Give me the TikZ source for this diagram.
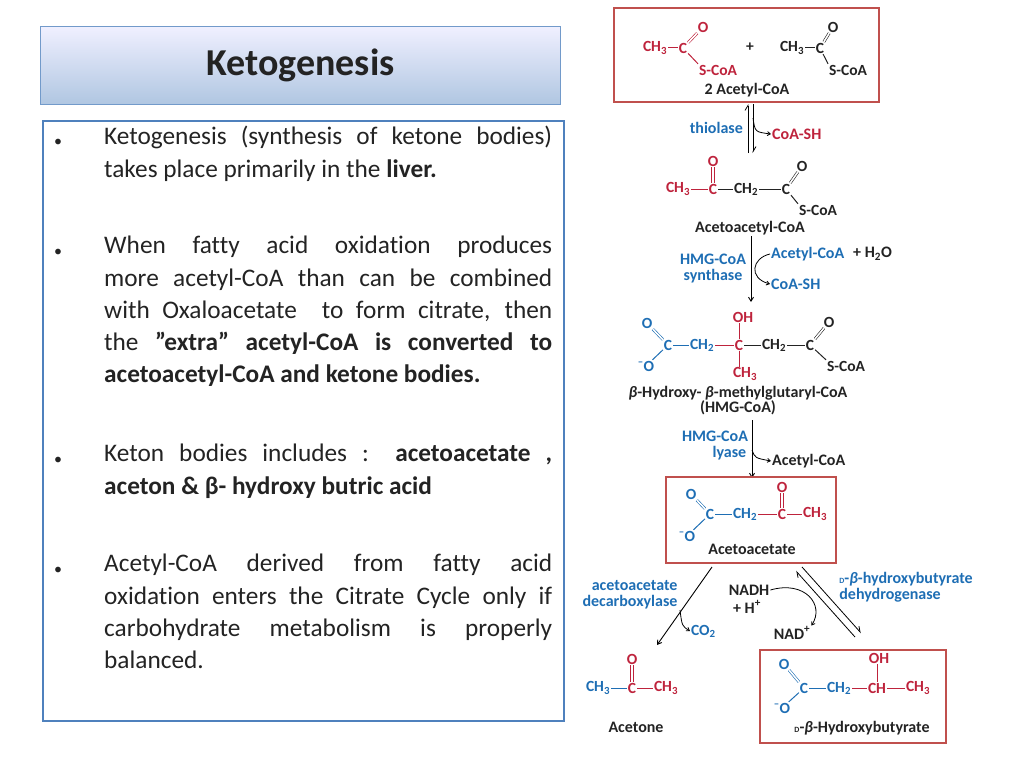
\documentclass[tikz,border=0pt]{standalone}
\usepackage{fontspec}
\setmainfont[Ligatures={NoCommon}]{Carlito}
\usetikzlibrary{arrows.meta}
\definecolor{cr}{RGB}{190,35,60}
\definecolor{cb}{RGB}{30,110,180}
\definecolor{ck}{RGB}{35,35,35}
\definecolor{boxr}{RGB}{192,80,77}
\definecolor{boxb}{RGB}{79,129,189}
\begin{document}
\begin{tikzpicture}[x=1pt,y=-1pt,
  ch/.style={font=\fontsize{15.5}{16}\selectfont\bfseries,inner sep=0.8pt},
  lab/.style={font=\fontsize{16}{17}\selectfont\bfseries,inner sep=1pt,align=center},
  bd/.style={line width=1pt},
  db/.style={line width=0.6pt,double,double distance=1.6pt},
  rbox/.style={draw=boxr,line width=1.8pt},
  arr/.style={line width=0.9pt,-{Straight Barb[length=4pt,width=5pt]}},
  carr/.style={line width=0.8pt,-{Straight Barb[length=3pt,width=4pt]}}]
\useasboundingbox (0,0) rectangle (1024,768);
% left panel
\node[draw=boxb!80,line width=1pt,top color=blue!6,bottom color=boxb!45,minimum width=520,minimum height=78,anchor=north west,font=\fontsize{38}{40}\selectfont\bfseries,text=ck] (title) at (40,26) {Ketogenesis};
\node[draw=boxb,line width=2pt,minimum width=521,minimum height=600,anchor=north west] (cbox) at (42,120) {};
\tikzset{para/.style={anchor=north west,text width=448,align=justify,inner sep=0,font=\fontsize{25.3}{32.3}\selectfont,text=ck},bul/.style={font=\fontsize{16}{32}\selectfont,inner sep=0,text=ck}}
\node[bul] (b1) at (58,143) {•};
\node[para] (p1) at (104,126) {Ketogenesis (synthesis of ketone bodies)\linebreak takes place primarily in the \textbf{liver.}};
\node[bul] (b2) at (58,253) {•};
\node[para] (p2) at (104,236) {When fatty acid oxidation produces\linebreak more acetyl-CoA than can be combined\linebreak with Oxaloacetate\ \ to form citrate, then\linebreak the \textbf{\symbol{34}extra\symbol{34} acetyl-CoA is converted to\linebreak acetoacetyl-CoA and ketone bodies.}};
\node[bul] (b3) at (58,461) {•};
\node[para] (p3) at (104,444) {Keton bodies includes : \textbf{acetoacetate ,\linebreak aceton \& β- hydroxy butric acid}};
\node[bul] (b4) at (58,571) {•};
\node[para] (p4) at (104,554) {Acetyl-CoA derived from fatty acid\linebreak oxidation enters the Citrate Cycle only if\linebreak carbohydrate metabolism is properly\linebreak balanced.};
% box 1: 2 acetyl-CoA
\draw[rbox] (614,8) rectangle (879,102);
\node[ch,text=cr] (a1) at (655,48) {CH\textsubscript{3}};
\node[ch,text=cr] (a2) at (683,48) {C};
\node[ch,text=cr] (a3) at (703,27) {O};
\node[ch,text=cr] (a4) at (718,70) {S-CoA};
\draw[bd,cr] (a1) -- (a2); \draw[db,cr] (a2) -- (a3); \draw[bd,cr] (a2) -- (a4.north west);
\node[ch,text=ck] (plus1) at (750,47) {+};
\node[ch,text=ck] (c1) at (792,48) {CH\textsubscript{3}};
\node[ch,text=ck] (c2) at (820,48) {C};
\node[ch,text=ck] (c3) at (833,27) {O};
\node[ch,text=ck] (c4) at (848,70) {S-CoA};
\draw[bd,ck] (c1) -- (c2); \draw[db,ck] (c2) -- (c3); \draw[bd,ck] (c2) -- (c4.north west);
\node[lab,text=ck] (acoa) at (747,90) {2 Acetyl-CoA};
% thiolase
\coordinate (t1) at (748,104); \coordinate (t2) at (748,153);
\coordinate (t3) at (753,104); \coordinate (t4) at (753,153);
\draw[line width=0.8pt,-{Straight Barb[left,length=5pt,width=6pt]}] (t2) -- (t1);
\draw[line width=0.8pt,-{Straight Barb[left,length=5pt,width=6pt]}] (t3) -- (t4);
\node[lab,text=cb,anchor=east] (thio) at (744,128) {thiolase};
\node[lab,text=cr,anchor=west] (coash1) at (771,134) {CoA-SH};
\coordinate (k1) at (753,118);
\draw[carr] (k1) .. controls (755,132) .. (coash1.west);
% acetoacetyl-CoA
\node[ch,text=cr] (d1) at (678,189) {CH\textsubscript{3}};
\node[ch,text=cr] (d2) at (713,189) {C};
\node[ch,text=cr] (d3) at (713,161) {O};
\node[ch,text=ck] (d4) at (746,189) {CH\textsubscript{2}};
\node[ch,text=ck] (d5) at (786,189) {C};
\node[ch,text=ck] (d6) at (802,166) {O};
\node[ch,text=ck] (d7) at (818,210) {S-CoA};
\draw[bd,cr] (d1) -- (d2); \draw[bd,ck] (d2) -- (d4);
\draw[line width=0.8pt,cr] ([xshift=-1.3]d2.north) -- ([xshift=-1.3]d3.south) ([xshift=1.3]d2.north) -- ([xshift=1.3]d3.south);
\draw[bd,ck] (d4) -- (d5); \draw[db,ck] (d5) -- (d6); \draw[bd,ck] (d5) -- (d7.north west);
\node[lab,text=ck] (aacoa) at (750,228) {Acetoacetyl-CoA};
% HMG-CoA synthase
\draw[arr] (aacoa.south -| 751,0) -- (751,302) coordinate (s2);
\node[lab,text=cb] (hs) at (713,269) {HMG-CoA\\[-1pt]synthase};
\node[lab,text=cb,anchor=west] (acs) at (770,254) {Acetyl-CoA};
\node[lab,text=ck,anchor=west] (h2o) at (852,254) {+ H\textsubscript{2}O};
\node[lab,text=cb,anchor=west] (coash2) at (770,284) {CoA-SH};
\draw[carr] (acs.west) .. controls (752,258) and (748,278) .. (coash2.west);
% HMG-CoA
\node[ch,text=cb] (e1) at (647,323) {O};
\node[ch,text=cb] (e2) at (668,345) {C};
\node[ch,text=cb] (e3) at (646,366) {\textsuperscript{–}O};
\node[ch,text=cb] (e4) at (702,345) {CH\textsubscript{2}};
\node[ch,text=cr] (e5) at (739,345) {C};
\node[ch,text=cr] (e6) at (743,317) {OH};
\node[ch,text=cr] (e7) at (745,374) {CH\textsubscript{3}};
\node[ch,text=ck] (e8) at (774,345) {CH\textsubscript{2}};
\node[ch,text=ck] (e9) at (810,345) {C};
\node[ch,text=ck] (e10) at (829,322) {O};
\node[ch,text=ck] (e11) at (846,366) {S-CoA};
\draw[db,cb] (e2) -- (e1); \draw[bd,cb] (e2) -- (e3); \draw[bd,cb] (e2) -- (e4);
\draw[bd,cr] (e4) -- (e5); \draw[bd,cr] (e5.north) -- (e5 |- e6.south); \draw[bd,cr] (e5.south) -- (e5 |- e7.north);
\draw[bd,ck] (e5) -- (e8); \draw[bd,ck] (e8) -- (e9); \draw[db,ck] (e9) -- (e10); \draw[bd,ck] (e9) -- (e11.north west);
\node[lab,text=ck] (hmgname) at (738,401) {\textit{β}-Hydroxy- \textit{β}-methylglutaryl-CoA\\[-2pt](HMG-CoA)};
% lyase
\draw[arr] (752,420) -- (752,478);
\node[lab,text=cb] (hl) at (715,446) {HMG-CoA\\[-1pt]\hspace*{1.8em}lyase};
\node[lab,text=ck,anchor=west] (acs2) at (771,461) {Acetyl-CoA};
\coordinate (k2) at (752,450);
\draw[carr] (k2) .. controls (755,458) .. (acs2.west);
% acetoacetate box
\draw[rbox] (666,477) rectangle (836,563);
\node[ch,text=cb] (f1) at (691,494) {O};
\node[ch,text=cb] (f2) at (710,514) {C};
\node[ch,text=cb] (f3) at (687,536) {\textsuperscript{–}O};
\node[ch,text=cb] (f4) at (745,514) {CH\textsubscript{2}};
\node[ch,text=cr] (f5) at (782,514) {C};
\node[ch,text=cr] (f6) at (782,487) {O};
\node[ch,text=cr] (f7) at (815,514) {CH\textsubscript{3}};
\draw[db,cb] (f2) -- (f1); \draw[bd,cb] (f2) -- (f3); \draw[bd,cb] (f2) -- (f4);
\draw[bd,cr] (f4) -- (f5); \draw[bd,cr] (f5) -- (f7);
\draw[line width=0.8pt,cr] ([xshift=-1.3]f5.north) -- ([xshift=-1.3]f6.south) ([xshift=1.3]f5.north) -- ([xshift=1.3]f6.south);
\node[lab,text=ck] (aaname) at (752,549) {Acetoacetate};
% decarboxylase
\coordinate (g1) at (712,567); \coordinate (g2) at (657,645);
\draw[arr] (g1) -- (g2);
\node[lab,text=cb,align=right] (dc) at (630,595) {acetoacetate\\[-1pt]decarboxylase};
\node[ch,text=cb,anchor=west] (co2) at (690,631) {CO\textsubscript{2}};
\coordinate (k3) at (680,610);
\draw[carr] (k3) .. controls (682,626) .. (co2.west);
% dehydrogenase
\draw[line width=0.8pt,-{Straight Barb[left,length=5pt,width=6pt]}] (855,637) -- (796,571);
\draw[line width=0.8pt,-{Straight Barb[left,length=5pt,width=6pt]}] (802,567) -- (861,633);
\node[lab,text=ck,align=left] (nadh) at (749,590) {NADH};
\node[lab,text=ck,align=left] (hplus) at (747,607) {\textbf{+} H\textsuperscript{+}};
\node[lab,text=ck] (nad) at (792,633) {NAD\textsuperscript{+}};
\draw[carr] (nadh.east) .. controls (805,580) and (825,605) .. (nad.north east);
\node[lab,text=cb,align=left] (dh) at (906,587) {{\footnotesize D}-\textit{β}-hydroxybutyrate\\[-1pt]dehydrogenase};
% acetone
\node[ch,text=cr] (h1) at (632,659) {O};
\node[ch,text=cr] (h2) at (632,688) {C};
\node[ch,text=cb] (h3) at (598,688) {CH\textsubscript{3}};
\node[ch,text=cr] (h4) at (666,688) {CH\textsubscript{3}};
\draw[line width=0.8pt,cr] ([xshift=-1.3]h2.north) -- ([xshift=-1.3]h1.south) ([xshift=1.3]h2.north) -- ([xshift=1.3]h1.south);
\draw[bd,cb] (h3) -- (h2); \draw[bd,cr] (h2) -- (h4);
\node[lab,text=ck] (acetone) at (636,727) {Acetone};
% hydroxybutyrate box
\draw[rbox] (760,650) rectangle (946,743);
\node[ch,text=cb] (m1) at (784,664) {O};
\node[ch,text=cb] (m2) at (804,688) {C};
\node[ch,text=cb] (m3) at (782,708) {\textsuperscript{–}O};
\node[ch,text=cb] (m4) at (839,688) {CH\textsubscript{2}};
\node[ch,text=cr] (m5) at (877,688) {CH};
\node[ch,text=cr] (m6) at (879,658) {OH};
\node[ch,text=cr] (m7) at (918,688) {CH\textsubscript{3}};
\draw[db,cb] (m2) -- (m1); \draw[bd,cb] (m2) -- (m3); \draw[bd,cb] (m2) -- (m4);
\draw[bd,cr] (m4) -- (m5); \draw[bd,cr] (m5.north) -- (m5 |- m6.south); \draw[bd,cr] (m5) -- (m7);
\node[lab,text=ck] (hbname) at (862,728) {{\footnotesize D}-\textit{β}-Hydroxybutyrate};
\end{tikzpicture}
\end{document}
